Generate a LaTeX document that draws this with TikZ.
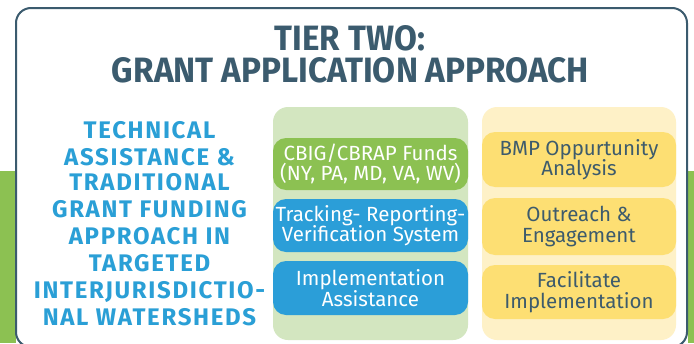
\documentclass[tikz,border=0pt]{standalone}
\usepackage{fontspec}
\usepackage{graphicx}
\setmainfont{Fira Sans}
\newfontfamily\leftfont{Fira Sans}[LetterSpace=7]
\definecolor{slate}{HTML}{3B5B6E}
\definecolor{tblue}{HTML}{2A9FD6}
\definecolor{ggreen}{HTML}{8CC152}
\definecolor{lgreen}{HTML}{D3E6C0}
\definecolor{bblue}{HTML}{2B9ED8}
\definecolor{yel}{HTML}{FDDF73}
\definecolor{lyel}{HTML}{FEF1C7}
\definecolor{ytext}{HTML}{3D5B6C}
\tikzset{
  titletext/.style={anchor=north, inner sep=0pt, text=slate, font=\bfseries},
  lefttext/.style={anchor=base, inner sep=0pt, text=tblue, font=\leftfont\bfseries\fontsize{24}{26}\selectfont},
  panel/.style={rounded corners=15pt},
  boxnode/.style={rounded corners=13pt, minimum width=195pt, inner sep=0pt, align=center, font=\fontsize{20.5}{20.5}\selectfont},
  greenbox/.style={boxnode, fill=ggreen, text=white},
  bluebox/.style={boxnode, fill=bblue, text=white},
  yelbox/.style={boxnode, minimum width=194pt, fill=yel, text=ytext},
}
\begin{document}
\begin{tikzpicture}[x=1pt,y=-1pt]
\useasboundingbox (0,0) rectangle (694,343);
\clip (0,0) rectangle (694,343);
\fill[ggreen] (0,171) rectangle (16,343);
\fill[ggreen] (688,171) rectangle (694,343);
\draw[slate, line width=2pt, fill=white, rounded corners=15pt] (16,8) rectangle (687,347);
\node[titletext] (t1) at (350,25) {\resizebox{150pt}{25pt}{TIER TWO:}};
\node[titletext] (t2) at (350.5,57) {\resizebox{477pt}{25pt}{GRANT APPLICATION APPROACH}};
\foreach \t/\y [count=\i] in {TECHNICAL/138, ASSISTANCE \&/165, TRADITIONAL/190.5, GRANT FUNDING/217, APPROACH IN/244.5, TARGETED/271, INTERJURISDICTIO-/298.5, NAL WATERSHEDS/325}
  \node[lefttext] (l\i) at (149.5,\y) {\t};
\fill[lgreen, panel] (273,107) rectangle (468,340);
\fill[lyel, panel] (482,107) rectangle (676,340);
\node[greenbox, minimum height=52pt] (cbig) at (370.5,164) {CBIG/CBRAP Funds\\(NY, PA, MD, VA, WV)};
\node[bluebox, minimum height=53pt] (track) at (370.5,225.5) {Tracking- Reporting-\\Verification System};
\node[bluebox, minimum height=54pt] (impl) at (370.5,288) {Implementation\\Assistance};
\node[yelbox, minimum height=55pt] (bmp) at (579,159.5) {BMP Oppurtunity\\Analysis};
\node[yelbox, minimum height=57pt] (outr) at (579,226.5) {Outreach \&\\Engagement};
\node[yelbox, minimum height=54pt] (fac) at (579,292) {Facilitate\\Implementation};
\end{tikzpicture}
\end{document}
